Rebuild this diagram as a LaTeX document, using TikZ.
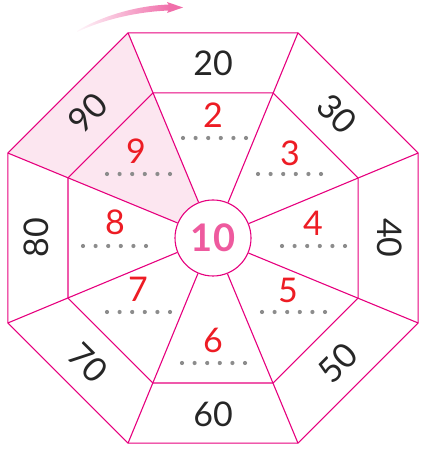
\documentclass[tikz,border=0pt]{standalone}
\usepackage{fontspec}
\setmainfont{Lato}
\definecolor{linepink}{HTML}{E6007E}
\definecolor{wedgepink}{HTML}{FCE6F0}
\definecolor{arrowpink}{HTML}{F06EAA}
\definecolor{centerpink}{HTML}{EE5A9E}
\definecolor{numred}{HTML}{ED1C24}
\definecolor{dotgray}{HTML}{8C8C8C}
\tikzset{
  edge/.style={draw=linepink, line width=1.1pt, line join=miter},
  outerlabel/.style={text=black!85, font=\fontsize{34}{40}\selectfont, inner sep=0pt},
  innerlabel/.style={text=numred, font=\fontsize{34}{40}\selectfont, inner sep=0pt},
  dotmark/.style={fill=dotgray},
}
\newcommand{\dotrow}[2]{\foreach \k in {0,...,5}{\fill[dotmark] ({#1+12.6*\k},#2) circle (2.1pt);}}
\begin{document}
\begin{tikzpicture}[x=1pt,y=1pt]
\useasboundingbox (0,0) rectangle (420,449);
% arrow
\shade[left color=arrowpink!5, right color=arrowpink]
  (77,418) .. controls (100,432) and (135,443.5) .. (170,444.5)
  -- (170,438.5) .. controls (135,437.5) and (100,428) .. (77,417) -- cycle;
\fill[arrowpink] (183,441.5) -- (167,447) -- (170,441.5) -- (167,436) -- cycle;
\begin{scope}[shift={(213,211)}]
  \foreach \i in {0,...,7}{
    \coordinate (O\i) at (22.5+45*\i:222);
    \coordinate (I\i) at (22.5+45*\i:157);
  }
  \fill[wedgepink] (O2) -- (O3) -- (157.5:38) arc[start angle=157.5,end angle=112.5,radius=38] -- cycle;
  \node[circle, edge, fill=white, minimum size=76pt, inner sep=0pt] (ctr) at (0,0) {};
  \draw[edge] (O0) -- (O1) -- (O2) -- (O3) -- (O4) -- (O5) -- (O6) -- (O7) -- cycle;
  \draw[edge] (I0) -- (I1) -- (I2) -- (I3) -- (I4) -- (I5) -- (I6) -- (I7) -- cycle;
  \foreach \i in {0,...,7}{
    \pgfmathsetmacro{\ang}{22.5+45*\i}
    \draw[edge] (O\i) -- (ctr.\ang);
  }
  \node[text=centerpink, font=\bfseries\fontsize{38}{42}\selectfont, inner sep=0pt] (ten) at (0,0) {10};
  % outer labels
  \node[outerlabel] (n20) at (90:175) {20};
  \node[outerlabel, rotate=-45] (n30) at (45:176) {30};
  \node[outerlabel, rotate=-90] (n40) at (0:177) {40};
  \node[outerlabel, rotate=45] (n50) at (-45:177) {50};
  \node[outerlabel] (n60) at (-90:176) {60};
  \node[outerlabel, rotate=-45] (n70) at (-135:177) {70};
  \node[outerlabel, rotate=90] (n80) at (180:177) {80};
  \node[outerlabel, rotate=45] (n90) at (135:177) {90};
\end{scope}
% inner labels
\node[innerlabel] (d2) at (213,334) {2};
\node[innerlabel] (d3) at (290,296) {3};
\node[innerlabel] (d4) at (313,226) {4};
\node[innerlabel] (d5) at (288,159) {5};
\node[innerlabel] (d6) at (213,109) {6};
\node[innerlabel] (d7) at (138,160) {7};
\node[innerlabel] (d8) at (115,227) {8};
\node[innerlabel] (d9) at (136,298) {9};
\dotrow{183}{311}
\dotrow{258}{275}
\dotrow{282}{203}
\dotrow{262}{137}
\dotrow{182}{86}
\dotrow{107}{137}
\dotrow{83}{203}
\dotrow{107}{275}
\end{tikzpicture}
\end{document}
